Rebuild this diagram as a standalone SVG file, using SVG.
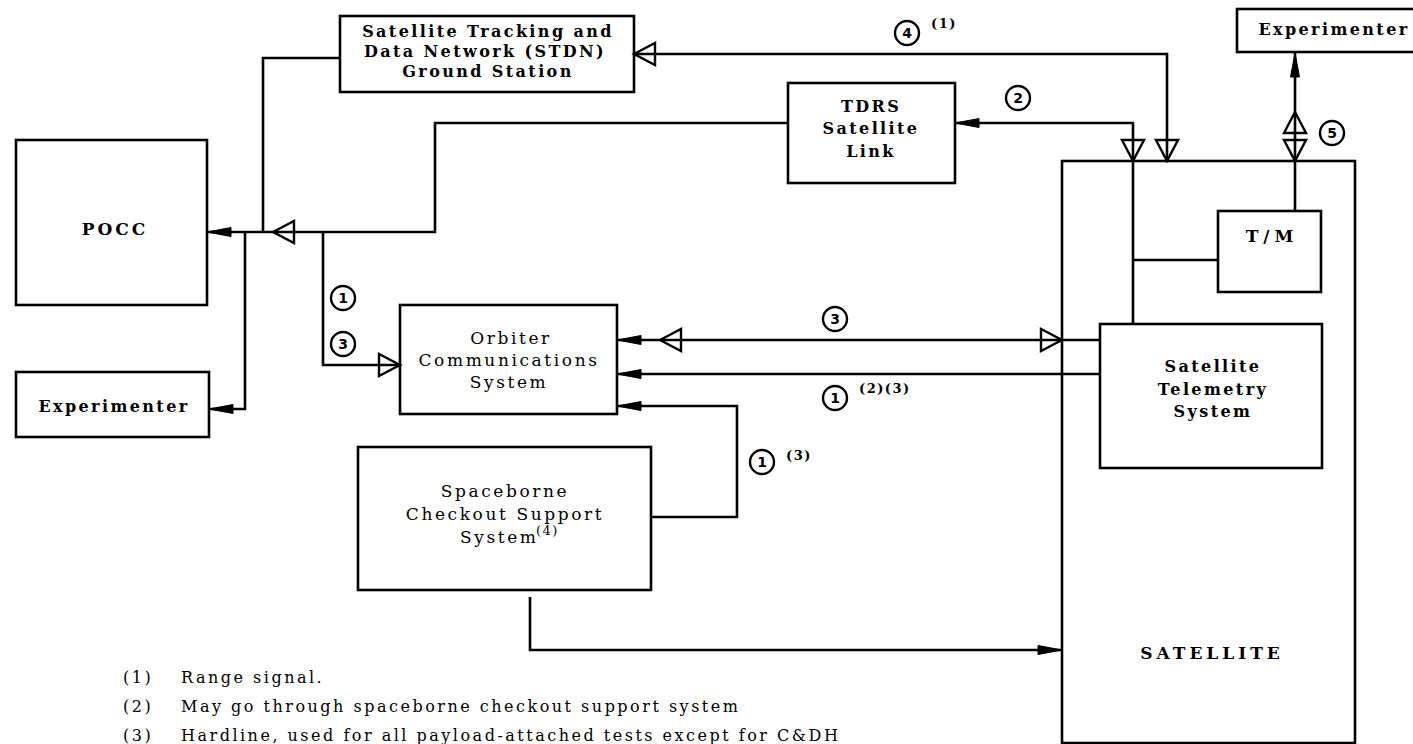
<svg xmlns="http://www.w3.org/2000/svg" width="1413" height="744" viewBox="0 0 1413 744" xmlns:xlink="http://www.w3.org/1999/xlink">
<style>
.box{fill:none;stroke:#000;stroke-width:2.6}
.ln{fill:none;stroke:#000;stroke-width:2.6}
.b{font-family:"DejaVu Serif","Liberation Serif",serif;font-weight:bold;font-size:16px;letter-spacing:2.4px;fill:#000;text-anchor:middle}
.r{font-family:"DejaVu Serif","Liberation Serif",serif;font-size:17px;letter-spacing:2.6px;fill:#000;text-anchor:middle}
.fn{font-family:"DejaVu Serif","Liberation Serif",serif;font-size:16px;letter-spacing:2.5px;fill:#000}
.num{font-family:"DejaVu Sans","Liberation Sans",sans-serif;font-weight:bold;font-size:14px;fill:#000;text-anchor:middle}
.sup{font-family:"DejaVu Serif","Liberation Serif",serif;font-weight:bold;font-size:13px;letter-spacing:1.5px;fill:#000}
.circ{fill:#fff;stroke:#000;stroke-width:2.4}
</style>
<defs>
<polygon id="sa" points="0,0 24,-4.5 24,4.5" fill="#000" stroke="#000" stroke-width="1"/>
<polygon id="ha" points="0,0 21,-11 21,11" fill="none" stroke="#000" stroke-width="2.4" stroke-linejoin="miter"/>
</defs>

<g id="stdn">
<rect class="box" x="340" y="16" width="294" height="76"/>
<text class="b" x="488" y="37">Satellite Tracking and</text>
<text class="b" x="485" y="57">Data Network (STDN)</text>
<text class="b" x="488" y="77">Ground Station</text>
</g>
<g id="tdrs">
<rect class="box" x="788" y="83" width="167" height="100"/>
<text class="b" x="871" y="112">TDRS</text>
<text class="b" x="871" y="134">Satellite</text>
<text class="b" x="871" y="157">Link</text>
</g>
<g id="pocc">
<rect class="box" x="16" y="140" width="191" height="165"/>
<text class="b" x="115" y="235" style="font-size:17px;letter-spacing:3px">POCC</text>
</g>
<g id="experimenter-left">
<rect class="box" x="16" y="372" width="193" height="65"/>
<text class="b" x="114" y="412">Experimenter</text>
</g>
<g id="orbiter">
<rect class="box" x="400" y="305" width="217" height="109"/>
<text class="r" x="511" y="344">Orbiter</text>
<text class="r" x="509" y="366">Communications</text>
<text class="r" x="509" y="388">System</text>
</g>
<g id="spaceborne">
<rect class="box" x="358" y="447" width="293" height="143"/>
<text class="r" x="505" y="497">Spaceborne</text>
<text class="r" x="505" y="520">Checkout Support</text>
<text class="r" x="460" y="543" style="text-anchor:start">System</text>
<text class="sup" x="536" y="535" style="font-weight:normal">(4)</text>
</g>
<g id="satellite">
<rect class="box" x="1062" y="161" width="293" height="582"/>
<text class="b" x="1212" y="659" style="font-size:17px;letter-spacing:4px">SATELLITE</text>
</g>
<g id="tm">
<rect class="box" x="1218" y="211" width="103" height="81"/>
<text class="b" x="1272" y="242" style="font-size:17px;letter-spacing:5px">T/M</text>
</g>
<g id="telemetry">
<rect class="box" x="1100" y="324" width="222" height="144"/>
<text class="b" x="1213" y="372">Satellite</text>
<text class="b" x="1213" y="395">Telemetry</text>
<text class="b" x="1213" y="417">System</text>
</g>
<g id="experimenter-right">
<rect class="box" x="1237" y="9" width="190" height="43"/>
<text class="b" x="1334" y="35">Experimenter</text>
</g>

<g id="connectors">
<path class="ln" d="M340,58 H263 V232"/>
<path class="ln" d="M788,123 H435 V232 H207"/>
<use xlink:href="#ha" transform="translate(273,232)"/>
<use xlink:href="#sa" transform="translate(207,232)"/>
<path class="ln" d="M245,232 V409 H209"/>
<use xlink:href="#sa" transform="translate(209,409)"/>
<path class="ln" d="M323,232 V365 H400"/>
<use xlink:href="#ha" transform="translate(400,365) rotate(180)"/>
<path class="ln" d="M634,54 H1167 V161"/>
<use xlink:href="#ha" transform="translate(634,54)"/>
<use xlink:href="#ha" transform="translate(1167,161) rotate(-90)"/>
<path class="ln" d="M955,123 H1133 V324"/>
<use xlink:href="#sa" transform="translate(955,123)"/>
<use xlink:href="#ha" transform="translate(1133,161) rotate(-90)"/>
<path class="ln" d="M1133,260 H1218"/>
<path class="ln" d="M1295,52 V211"/>
<use xlink:href="#sa" transform="translate(1295,53) rotate(90)"/>
<use xlink:href="#ha" transform="translate(1295,112) rotate(90)"/>
<use xlink:href="#ha" transform="translate(1295,161) rotate(-90)"/>
<path class="ln" d="M617,340 H1100"/>
<use xlink:href="#sa" transform="translate(617,340)"/>
<use xlink:href="#ha" transform="translate(660,340)"/>
<use xlink:href="#ha" transform="translate(1062,340) rotate(180)"/>
<path class="ln" d="M617,374 H1100"/>
<use xlink:href="#sa" transform="translate(617,374)"/>
<path class="ln" d="M651,517 H737 V406 H617"/>
<use xlink:href="#sa" transform="translate(617,406)"/>
<path class="ln" d="M530,597 V650 H1062"/>
<use xlink:href="#sa" transform="translate(1062,650) rotate(180)"/>
</g>

<g id="labels">
<circle class="circ" cx="907" cy="33" r="12"/><text class="num" x="907" y="38">4</text>
<text class="sup" x="931" y="28">(1)</text>
<circle class="circ" cx="1018" cy="98" r="12"/><text class="num" x="1018" y="103">2</text>
<circle class="circ" cx="1332" cy="133" r="12"/><text class="num" x="1332" y="138">5</text>
<circle class="circ" cx="343" cy="298" r="12"/><text class="num" x="343" y="303">1</text>
<circle class="circ" cx="343" cy="344" r="12"/><text class="num" x="343" y="349">3</text>
<circle class="circ" cx="835" cy="319" r="12"/><text class="num" x="835" y="324">3</text>
<circle class="circ" cx="835" cy="398" r="12"/><text class="num" x="835" y="403">1</text>
<text class="sup" x="859" y="393">(2)(3)</text>
<circle class="circ" cx="762" cy="462" r="12"/><text class="num" x="762" y="467">1</text>
<text class="sup" x="786" y="460">(3)</text>
</g>

<g id="footnotes">
<text class="fn" x="123" y="683">(1)</text><text class="fn" x="181" y="683">Range signal.</text>
<text class="fn" x="123" y="712">(2)</text><text class="fn" x="181" y="712">May go through spaceborne checkout support system</text>
<text class="fn" x="123" y="741">(3)</text><text class="fn" x="181" y="741">Hardline, used for all payload-attached tests except for C&amp;DH</text>
</g>
</svg>
